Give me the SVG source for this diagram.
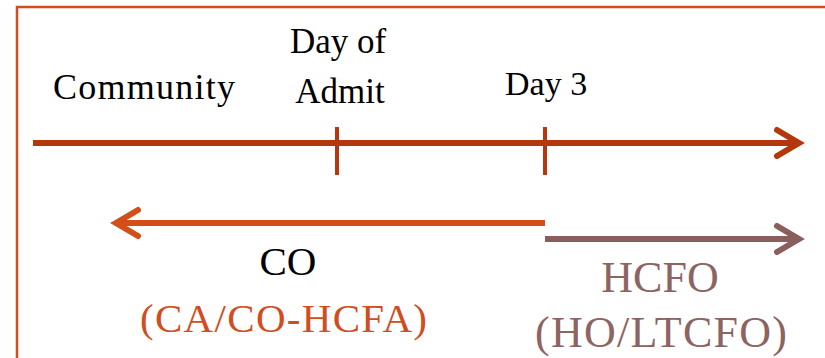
<svg xmlns="http://www.w3.org/2000/svg" width="825" height="358" viewBox="0 0 825 358">
<style>
text{font-family:"Liberation Serif","Times New Roman",serif;}
.blk{fill:#000;}
.org{fill:#D24D1D;}
.mve{fill:#8C6462;}
.head{fill:none;stroke-linecap:round;stroke-linejoin:miter;stroke-width:6;}
</style>
<rect x="17" y="7" width="840" height="400" fill="#fff" stroke="#D34E1F" stroke-width="2.5"/>
<g id="connectors">
<g id="timeline" stroke="#B3380D">
<line x1="33" y1="143" x2="797" y2="143" stroke-width="6"/>
<polyline class="head" points="777,130 799,143 777,156"/>
<line x1="337" y1="127" x2="337" y2="175" stroke-width="4"/>
<line x1="545" y1="127" x2="545" y2="175" stroke-width="4"/>
</g>
<g id="co-arrow" stroke="#D44E1A">
<line x1="545" y1="223" x2="117" y2="223" stroke-width="6"/>
<polyline class="head" points="138,210 116,223 138,236"/>
</g>
<g id="hcfo-arrow" stroke="#8A5E5C">
<line x1="545" y1="239" x2="797" y2="239" stroke-width="6"/>
<polyline class="head" points="777,226 799,239 777,252"/>
</g>
</g>
<g id="community"><text class="blk" x="53" y="99" font-size="36" textLength="182">Community</text></g>
<g id="day-of-admit">
<text class="blk" x="338" y="53" font-size="35" text-anchor="middle">Day of</text>
<text class="blk" x="340" y="103" font-size="35" text-anchor="middle">Admit</text>
</g>
<g id="day3"><text class="blk" x="505" y="95" font-size="34">Day 3</text></g>
<g id="co">
<text class="blk" x="288" y="275" font-size="41" text-anchor="middle">CO</text>
<text class="org" x="140" y="332" font-size="41" textLength="287">(CA/CO-HCFA)</text>
</g>
<g id="hcfo">
<text class="mve" x="660" y="292" font-size="44" text-anchor="middle">HCFO</text>
<text class="mve" x="535" y="347" font-size="44" textLength="252">(HO/LTCFO)</text>
</g>
</svg>
